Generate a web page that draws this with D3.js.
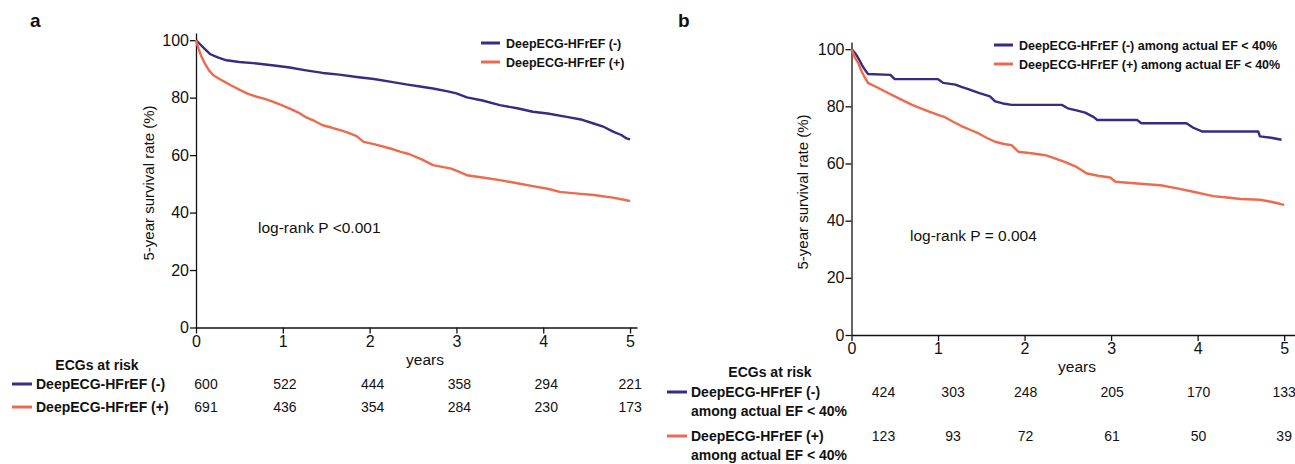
<!DOCTYPE html>
<html>
<head>
<meta charset="utf-8">
<script src="https://d3js.org/d3.v7.min.js"></script>
<style>
  body { margin: 0; background: #fff; }
  svg text { font-family: "Liberation Sans", Arial, sans-serif; fill: #111; }
  .axis path, .axis line { stroke: #111; stroke-width: 1.3; }
</style>
</head>
<body>
<div id="chart"></div>
<script>
// ---- data ----
const yearTicks = [0, 1, 2, 3, 4, 5];
const survTicks = [0, 20, 40, 60, 80, 100];

// panel a: all ECGs
const aNegTimes = [0, 0.05, 0.1, 0.16, 0.25, 0.35, 0.5, 0.7, 0.9, 1.08, 1.25, 1.46, 1.65, 1.85, 2.05, 2.25, 2.42, 2.6, 2.73, 2.9, 3.0, 3.12, 3.3, 3.5, 3.7, 3.88, 4.05, 4.27, 4.45, 4.58, 4.7, 4.81, 4.9, 4.96, 5.0];
const aNegSurv  = [100, 98.5, 97, 95.2, 94, 93, 92.4, 91.9, 91.2, 90.5, 89.6, 88.6, 88, 87.2, 86.5, 85.5, 84.6, 83.8, 83.2, 82.2, 81.5, 80.1, 79, 77.4, 76.3, 75.1, 74.5, 73.3, 72.3, 71, 69.8, 68.1, 67, 65.8, 65.5];
const aPosTimes = [0, 0.03, 0.06, 0.1, 0.15, 0.2, 0.3, 0.4, 0.51, 0.6, 0.7, 0.8, 0.89, 1.0, 1.08, 1.18, 1.27, 1.37, 1.46, 1.56, 1.66, 1.75, 1.85, 1.93, 2.05, 2.24, 2.35, 2.46, 2.6, 2.73, 2.85, 2.93, 3.02, 3.12, 3.3, 3.5, 3.7, 3.88, 4.05, 4.19, 4.4, 4.58, 4.8, 4.96, 5.0];
const aPosSurv  = [100, 97, 94.5, 92, 89.5, 87.8, 86, 84.3, 82.6, 81.3, 80.3, 79.5, 78.5, 77.2, 76.2, 74.8, 73.1, 71.8, 70.4, 69.6, 68.7, 67.8, 66.6, 64.6, 63.8, 62.3, 61.2, 60.3, 58.5, 56.5, 55.8, 55.4, 54.3, 53, 52.2, 51.3, 50.2, 49.2, 48.3, 47.2, 46.6, 46.1, 45.2, 44.3, 44];
const aRiskNeg = [600, 522, 444, 358, 294, 221];
const aRiskPos = [691, 436, 354, 284, 230, 173];

// panel b: among actual EF < 40%
const bNegTimes = [0, 0.03, 0.06, 0.09, 0.12, 0.15, 0.19, 0.45, 0.5, 1.0, 1.06, 1.2, 1.27, 1.35, 1.47, 1.6, 1.66, 1.75, 1.85, 2.43, 2.5, 2.6, 2.7, 2.8, 2.84, 3.3, 3.35, 3.87, 3.95, 4.05, 4.7, 4.72, 4.85, 4.97];
const bNegSurv  = [100, 99, 97.8, 96.2, 94.5, 93, 91.3, 91, 89.5, 89.5, 88.2, 87.6, 86.8, 86, 84.7, 83.5, 81.7, 81, 80.5, 80.5, 79.3, 78.6, 77.8, 76.2, 75.2, 75.2, 74.1, 74.1, 72.5, 71.2, 71.2, 69.5, 69, 68.3];
const bPosTimes = [0, 0.04, 0.08, 0.12, 0.16, 0.19, 0.31, 0.4, 0.5, 0.6, 0.7, 0.8, 0.89, 1.0, 1.08, 1.18, 1.27, 1.37, 1.47, 1.56, 1.66, 1.75, 1.85, 1.93, 2.1, 2.24, 2.35, 2.47, 2.6, 2.72, 2.85, 2.99, 3.05, 3.3, 3.57, 3.75, 3.95, 4.18, 4.34, 4.5, 4.72, 4.85, 4.95, 5.0];
const bPosSurv  = [100, 97, 95, 92, 89.8, 88.2, 86.4, 85, 83.5, 82, 80.5, 79.3, 78.2, 77, 76.2, 74.5, 73.1, 71.8, 70.5, 69, 67.6, 66.9, 66.4, 64.1, 63.5, 62.9, 61.8, 60.5, 58.8, 56.5, 55.7, 55.1, 53.6, 53, 52.4, 51.4, 50.1, 48.6, 48.1, 47.6, 47.3, 46.6, 45.9, 45.5];
const bRiskNeg = [424, 303, 248, 205, 170, 133];
const bRiskPos = [123, 93, 72, 61, 50, 39];

const negColor = "#3a2a82";
const posColor = "#ef6a4c";

const zip = (ts, ss) => ts.map((t, i) => ({t: t, s: ss[i]}));

let svg = d3.select("#chart").append("svg")
    .attr("width", 1295)
    .attr("height", 464);

function drawPanel(cfg) {
    let x = d3.scaleLinear().domain([0, cfg.xMax]).range([cfg.left, cfg.right]);
    let y = d3.scaleLinear().domain([0, 102.5]).range([cfg.bottom, cfg.top]);

    let g = svg.append("g");

    g.append("text")
        .attr("x", cfg.letterX).attr("y", 27)
        .style("font-size", "19px").style("font-weight", "bold")
        .text(cfg.letter);

    // axes
    g.append("g")
        .attr("class", "axis")
        .attr("transform", `translate(${cfg.left},0)`)
        .call(d3.axisLeft(y).tickValues(survTicks).tickSize(6).tickSizeOuter(0).tickPadding(1));

    g.append("g")
        .attr("class", "axis")
        .attr("transform", `translate(0,${cfg.bottom})`)
        .call(d3.axisBottom(x).tickValues(yearTicks).tickSize(6).tickSizeOuter(0).tickFormat(d3.format("d")).tickPadding(2));

    g.selectAll(".axis text")
        .attr("fill", "#111")
        .style("font-size", "16px")
        .style("font-family", "'Liberation Sans', Arial, sans-serif");

    // y title
    g.append("text")
        .attr("transform", `translate(${cfg.yTitleX},${cfg.yTitleY}) rotate(-90)`)
        .attr("text-anchor", "middle")
        .style("font-size", "15px")
        .text("5-year survival rate (%)");

    // x title
    g.append("text")
        .attr("x", cfg.yearsX).attr("y", cfg.bottom + 37)
        .attr("text-anchor", "middle")
        .style("font-size", "15.5px")
        .text("years");

    // curves
    let line = d3.line()
        .x(d => x(d.t))
        .y(d => y(d.s));

    cfg.series.forEach(s => {
        g.append("path")
            .datum(zip(s.times, s.surv))
            .attr("fill", "none")
            .attr("stroke", s.color)
            .attr("stroke-width", 2.4)
            .attr("stroke-linejoin", "round")
            .attr("d", line);
    });

    // legend
    cfg.series.forEach((s, i) => {
        let ly = cfg.legendY + i * 19;
        g.append("line")
            .attr("x1", cfg.legendX).attr("x2", cfg.legendX + 19)
            .attr("y1", ly).attr("y2", ly)
            .attr("stroke", s.color).attr("stroke-width", 3);
        g.append("text")
            .attr("x", cfg.legendX + 25).attr("y", ly + 4.5)
            .style("font-size", "12.5px").style("font-weight", "bold")
            .text(s.legend);
    });

    // log-rank
    g.append("text")
        .attr("x", cfg.pX).attr("y", cfg.pY)
        .style("font-size", "15.5px")
        .text(cfg.pText);

    // risk table
    g.append("text")
        .attr("x", cfg.riskTitleX).attr("y", cfg.bottom + 42)
        .attr("text-anchor", "middle")
        .style("font-size", "14px").style("font-weight", "bold")
        .text("ECGs at risk");

    cfg.series.forEach((s, i) => {
        let ry = cfg.riskY[i];
        g.append("line")
            .attr("x1", cfg.riskLineX).attr("x2", cfg.riskLineX + 20)
            .attr("y1", ry - 5).attr("y2", ry - 5)
            .attr("stroke", s.color).attr("stroke-width", 3);
        g.append("text")
            .attr("x", cfg.riskLineX + 24).attr("y", ry)
            .style("font-size", "14px").style("font-weight", "bold")
            .selectAll("tspan")
            .data(s.riskLabel)
            .join("tspan")
            .attr("x", cfg.riskLineX + 24)
            .attr("dy", (d, k) => k === 0 ? 0 : 19)
            .text(d => d);
        g.selectAll(null)
            .data(s.risk)
            .join("text")
            .attr("x", (d, k) => x(yearTicks[k]) + cfg.riskShift[k])
            .attr("y", ry)
            .attr("text-anchor", "middle")
            .style("font-size", "14px")
            .text(d => d);
    });
}

drawPanel({
    letter: "a", letterX: 30,
    left: 196, right: 637, xMax: 5.08, top: 33, bottom: 327.5,
    yTitleX: 154, yTitleY: 183, yearsX: 425,
    legendX: 481, legendY: 43,
    pX: 258, pY: 233, pText: "log-rank P <0.001",
    riskTitleX: 97, riskLineX: 12, riskY: [389, 412],
    riskShift: [10, 2, 3, 3, 3, 0],
    series: [
        {times: aNegTimes, surv: aNegSurv, color: negColor, legend: "DeepECG-HFrEF (-)",
         risk: aRiskNeg, riskLabel: ["DeepECG-HFrEF (-)"]},
        {times: aPosTimes, surv: aPosSurv, color: posColor, legend: "DeepECG-HFrEF (+)",
         risk: aRiskPos, riskLabel: ["DeepECG-HFrEF (+)"]}
    ]
});

drawPanel({
    letter: "b", letterX: 678,
    left: 851.5, right: 1298, xMax: 5.16, top: 42, bottom: 335,
    yTitleX: 808, yTitleY: 192, yearsX: 1077,
    legendX: 994, legendY: 45,
    pX: 910, pY: 241, pText: "log-rank P = 0.004",
    riskTitleX: 770, riskLineX: 667, riskY: [397, 441],
    riskShift: [32, 15, 1, 1, 1, 0],
    series: [
        {times: bNegTimes, surv: bNegSurv, color: negColor, legend: "DeepECG-HFrEF (-) among actual EF < 40%",
         risk: bRiskNeg, riskLabel: ["DeepECG-HFrEF (-)", "among actual EF < 40%"]},
        {times: bPosTimes, surv: bPosSurv, color: posColor, legend: "DeepECG-HFrEF (+) among actual EF < 40%",
         risk: bRiskPos, riskLabel: ["DeepECG-HFrEF (+)", "among actual EF < 40%"]}
    ]
});
</script>
</body>
</html>
